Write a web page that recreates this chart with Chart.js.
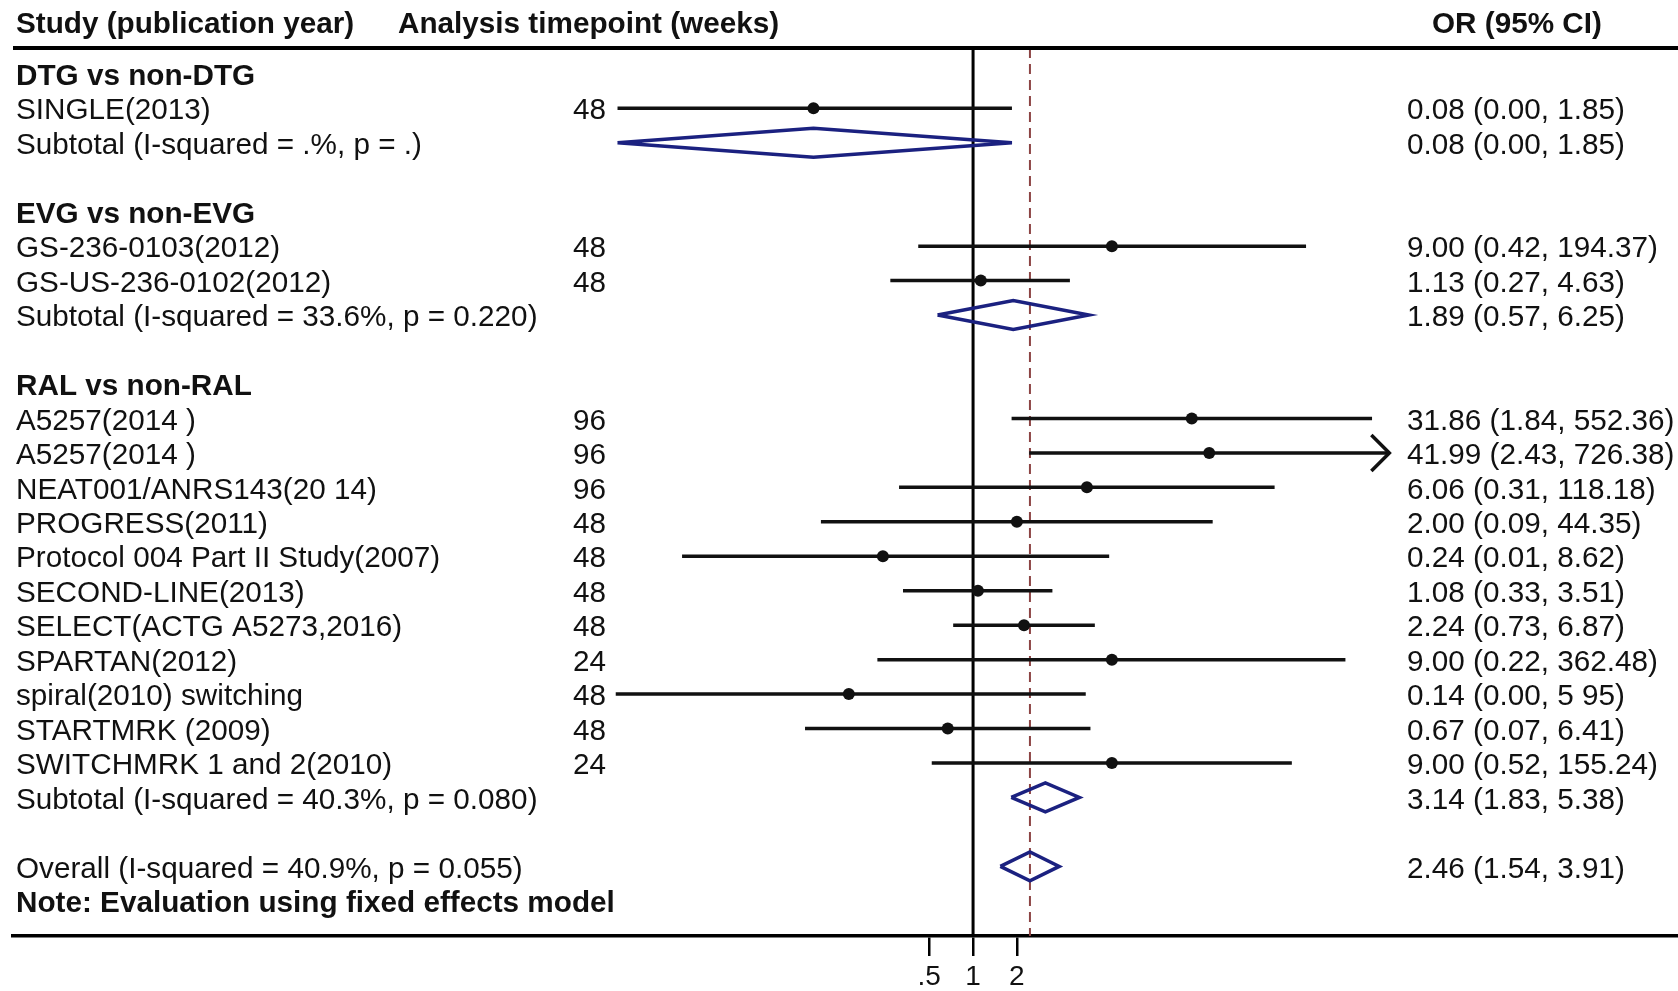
<!DOCTYPE html>
<html>
<head>
<meta charset="utf-8">
<title>Forest plot - OR (95% CI)</title>
<script src="https://cdn.jsdelivr.net/npm/chart.js@4.4.1/dist/chart.umd.min.js"></script>
<style>
  html, body { margin: 0; padding: 0; background: #fff; }
  canvas { display: block; }
</style>
</head>
<body>
<canvas id="forest" width="1678" height="991"></canvas>
<script>
// --- DATA (rows top to bottom) ---
const rowLabels = [
  'DTG vs non-DTG',
  'SINGLE(2013)',
  'Subtotal (I-squared = .%, p = .)',
  'EVG vs non-EVG',
  'GS-236-0103(2012)',
  'GS-US-236-0102(2012)',
  'Subtotal (I-squared = 33.6%, p = 0.220)',
  'RAL vs non-RAL',
  'A5257(2014 )',
  'A5257(2014 )',
  'NEAT001/ANRS143(20 14)',
  'PROGRESS(2011)',
  'Protocol 004 Part II Study(2007)',
  'SECOND-LINE(2013)',
  'SELECT(ACTG A5273,2016)',
  'SPARTAN(2012)',
  'spiral(2010) switching',
  'STARTMRK (2009)',
  'SWITCHMRK 1 and 2(2010)',
  'Subtotal (I-squared = 40.3%, p = 0.080)',
  'Overall (I-squared = 40.9%, p = 0.055)',
  'Note: Evaluation using fixed effects model'
];
const rowKinds = [
  'head', 'study', 'sub',
  'head', 'study', 'study', 'sub',
  'head', 'study', 'study', 'study', 'study', 'study', 'study', 'study', 'study', 'study', 'study', 'study', 'sub',
  'overall', 'note'
];
const timepoints = ['', '48', '', '', '48', '48', '', '', '96', '96', '96', '48', '48', '48', '48', '24', '48', '48', '24', '', '', ''];
const orEstimate = [null, 0.08, 0.08, null, 9.00, 1.13, 1.89, null, 31.86, 41.99, 6.06, 2.00, 0.24, 1.08, 2.24, 9.00, 0.14, 0.67, 9.00, 3.14, 2.46, null];
// printed as 0.00 in the table; the drawn lower ends
const ciLower = [null, 0.0036, 0.0036, null, 0.42, 0.27, 0.57, null, 1.84, 2.43, 0.31, 0.09, 0.01, 0.33, 0.73, 0.22, 0.0035, 0.07, 0.52, 1.83, 1.54, null];
const ciUpper = [null, 1.85, 1.85, null, 194.37, 4.63, 6.25, null, 552.36, 726.38, 118.18, 44.35, 8.62, 3.51, 6.87, 362.48, 5.95, 6.41, 155.24, 5.38, 3.91, null];
const orLabels = [
  '', '0.08 (0.00, 1.85)', '0.08 (0.00, 1.85)',
  '', '9.00 (0.42, 194.37)', '1.13 (0.27, 4.63)', '1.89 (0.57, 6.25)',
  '', '31.86 (1.84, 552.36)', '41.99 (2.43, 726.38)', '6.06 (0.31, 118.18)', '2.00 (0.09, 44.35)',
  '0.24 (0.01, 8.62)', '1.08 (0.33, 3.51)', '2.24 (0.73, 6.87)', '9.00 (0.22, 362.48)',
  '0.14 (0.00, 5 95)', '0.67 (0.07, 6.41)', '9.00 (0.52, 155.24)', '3.14 (1.83, 5.38)',
  '2.46 (1.54, 3.91)', ''
];
const arrowRows = [9]; // CI runs off the right, drawn with an arrow head
const headerLabels = ['Study (publication year)', 'Analysis timepoint (weeks)', 'OR (95% CI)'];
const xTickValues = [0.5, 1, 2];
const xTickLabels = ['.5', '1', '2'];
const nullValue = 1;

// --- LAYOUT / STYLE ---
const X_MIN = 2.52e-7, X_MAX = 7.0e4;   // log axis limits
const Y_TOP = -0.75, Y_BOTTOM = 25.02;  // row units
const GAP = 1;                          // blank row after each subtotal
const DIAMOND_HALF = 0.42;
const TEXT_SHIFT = 3;
const COL_STUDY = 16, COL_WEEKS = 573, COL_OR = 1407;
const HEADER_COLS = [16, 398, 1432];
const FONT = '"Liberation Sans", Arial, Helvetica, sans-serif';
const FONT_SIZE = 29.7;
const NAVY = '#1b2180';
const INK = '#111';

// row positions from the row structure
let pos = 0;
const rowY = rowKinds.map((kind, i) => {
  if (i > 0) pos += rowKinds[i - 1] === 'sub' ? 1 + GAP : 1;
  return pos;
});

const whiskers = [], points = [], diamonds = [];
rowKinds.forEach((kind, i) => {
  const y = rowY[i];
  if (kind === 'study') {
    whiskers.push({ x: ciLower[i], y }, { x: ciUpper[i], y }, { x: null, y: null });
    points.push({ x: orEstimate[i], y });
  } else if (kind === 'sub' || kind === 'overall') {
    diamonds.push(
      { x: ciLower[i], y },
      { x: orEstimate[i], y: y - DIAMOND_HALF },
      { x: ciUpper[i], y },
      { x: orEstimate[i], y: y + DIAMOND_HALF },
      { x: ciLower[i], y },
      { x: null, y: null }
    );
  }
});
const overallIdx = rowKinds.indexOf('overall');

// --- TEXT, RULES, ARROWS ---
const forestText = {
  id: 'forestText',
  afterDraw(chart) {
    const { ctx, chartArea, scales: { x, y } } = chart;
    ctx.save();
    ctx.strokeStyle = '#000';
    ctx.lineWidth = 4;
    ctx.beginPath();
    ctx.moveTo(chartArea.left, chartArea.top);
    ctx.lineTo(chartArea.right, chartArea.top);
    ctx.stroke();

    ctx.fillStyle = INK;
    ctx.textBaseline = 'middle';
    ctx.font = `bold ${FONT_SIZE}px ${FONT}`;
    headerLabels.forEach((h, k) => ctx.fillText(h, HEADER_COLS[k], chartArea.top - 23));

    rowLabels.forEach((label, i) => {
      const py = y.getPixelForValue(rowY[i]) + TEXT_SHIFT;
      const bold = rowKinds[i] === 'head' || rowKinds[i] === 'note';
      ctx.font = `${bold ? 'bold ' : ''}${FONT_SIZE}px ${FONT}`;
      ctx.fillText(label, COL_STUDY, py);
      ctx.font = `${FONT_SIZE}px ${FONT}`;
      if (timepoints[i]) ctx.fillText(timepoints[i], COL_WEEKS, py);
      if (orLabels[i]) ctx.fillText(orLabels[i], COL_OR, py);
    });

    ctx.strokeStyle = INK;
    ctx.lineWidth = 3.5;
    arrowRows.forEach(i => {
      const px = x.getPixelForValue(ciUpper[i]);
      const py = y.getPixelForValue(rowY[i]);
      ctx.beginPath();
      ctx.moveTo(px - 18, py - 18);
      ctx.lineTo(px, py);
      ctx.lineTo(px - 18, py + 18);
      ctx.stroke();
    });
    ctx.restore();
  }
};

new Chart(document.getElementById('forest'), {
  type: 'scatter',
  data: {
    datasets: [
      { data: points, showLine: false, pointRadius: 6, pointBackgroundColor: INK, pointBorderWidth: 0 },
      { data: whiskers, showLine: true, borderColor: INK, borderWidth: 3.5, pointRadius: 0, spanGaps: false },
      { data: diamonds, showLine: true, borderColor: NAVY, borderWidth: 3.5, pointRadius: 0, spanGaps: false, fill: false, tension: 0 },
      { data: [{ x: nullValue, y: Y_TOP }, { x: nullValue, y: Y_BOTTOM }], showLine: true, borderColor: '#000', borderWidth: 3, pointRadius: 0 },
      {
        data: [{ x: orEstimate[overallIdx], y: Y_TOP }, { x: orEstimate[overallIdx], y: Y_BOTTOM }],
        showLine: true, borderColor: '#8c4444', borderWidth: 2, borderDash: [10, 6], pointRadius: 0
      }
    ]
  },
  options: {
    responsive: false,
    animation: false,
    events: [],
    layout: { autoPadding: false, padding: { left: 13, right: 0, top: 48, bottom: 0 } },
    plugins: { legend: { display: false }, tooltip: { enabled: false } },
    scales: {
      x: {
        type: 'logarithmic',
        min: X_MIN,
        max: X_MAX,
        bounds: 'data',
        afterBuildTicks: s => { s.ticks = xTickValues.map(v => ({ value: v })); },
        afterFit: s => { s.height = 55; },
        grid: { drawOnChartArea: false, drawTicks: true, tickLength: 20, color: '#000', lineWidth: 2.5 },
        border: { display: true, color: '#000', width: 3.5 },
        ticks: {
          autoSkip: false,
          maxRotation: 0,
          padding: 4,
          color: INK,
          font: { family: FONT, size: 28 },
          callback: (v, idx) => xTickLabels[idx]
        }
      },
      y: { type: 'linear', reverse: true, min: Y_TOP, max: Y_BOTTOM, display: false }
    }
  },
  plugins: [forestText]
});
</script>
</body>
</html>
